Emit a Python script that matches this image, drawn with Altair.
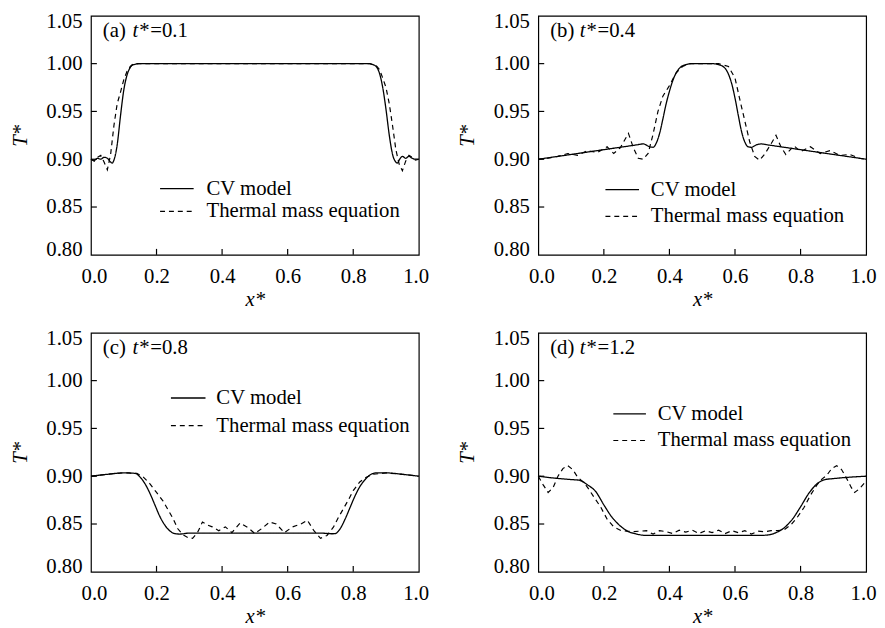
import altair as alt
import pandas as pd

SERIES = ["CV model", "Thermal mass equation"]
XTICKS = [0.0, 0.2, 0.4, 0.6, 0.8, 1.0]
YTICKS = [0.80, 0.85, 0.90, 0.95, 1.00, 1.05]
XTICKS_IN = [0.2, 0.4, 0.6, 0.8]
YTICKS_IN = [0.85, 0.90, 0.95, 1.00]

# ---------------- panel (a) t* = 0.1 ----------------
a_cv_x = [0.00, 0.01, 0.02, 0.03, 0.04, 0.05, 0.06, 0.065, 0.07, 0.08, 0.09, 0.10, 0.11, 0.12, 0.13, 0.15,
          0.50, 0.85, 0.86, 0.87, 0.88, 0.89, 0.90, 0.91, 0.92, 0.93, 0.935, 0.94, 0.95, 0.96, 0.97, 0.98, 0.99, 1.00]
a_cv_y = [0.900, 0.899, 0.901, 0.900, 0.902, 0.901, 0.897, 0.896, 0.899, 0.915, 0.945, 0.972, 0.988, 0.996, 0.999, 1.000,
          1.000, 1.000, 0.999, 0.997, 0.990, 0.975, 0.952, 0.925, 0.905, 0.897, 0.896, 0.899, 0.903, 0.901, 0.903, 0.901, 0.900, 0.900]
a_tm_x = [0.00, 0.01, 0.02, 0.03, 0.04, 0.05, 0.06, 0.07, 0.08, 0.09, 0.10, 0.11, 0.12, 0.13, 0.15,
          0.50, 0.85, 0.87, 0.88, 0.89, 0.90, 0.91, 0.92, 0.93, 0.94, 0.95, 0.96, 0.97, 0.98, 0.99, 1.00]
a_tm_y = [0.900, 0.898, 0.902, 0.904, 0.897, 0.889, 0.905, 0.935, 0.958, 0.970, 0.983, 0.992, 0.997, 1.000, 1.000,
          1.000, 1.000, 0.998, 0.994, 0.985, 0.975, 0.958, 0.935, 0.910, 0.895, 0.888, 0.898, 0.904, 0.902, 0.899, 0.900]

# ---------------- panel (b) t* = 0.4 ----------------
b_cv_x = [0.00, 0.10, 0.20, 0.30, 0.32, 0.34, 0.35, 0.36, 0.37, 0.38, 0.39, 0.40, 0.41, 0.42, 0.43, 0.45, 0.47,
          0.53, 0.55, 0.57, 0.58, 0.59, 0.60, 0.61, 0.62, 0.63, 0.64, 0.65, 0.665, 0.68, 0.70, 0.80, 0.90, 1.00]
b_cv_y = [0.900, 0.905, 0.910, 0.915, 0.916, 0.913, 0.9125, 0.917, 0.927, 0.942, 0.958, 0.971, 0.982, 0.990, 0.995, 0.999, 1.000,
          1.000, 0.999, 0.995, 0.989, 0.979, 0.964, 0.946, 0.929, 0.918, 0.913, 0.9125, 0.915, 0.916, 0.915, 0.910, 0.905, 0.900]
b_tm_x = [0.00, 0.03, 0.06, 0.09, 0.12, 0.15, 0.18, 0.21, 0.23, 0.25, 0.275, 0.29, 0.305, 0.32, 0.335, 0.35, 0.365,
          0.38, 0.40, 0.42, 0.44, 0.46, 0.55, 0.58, 0.60, 0.615, 0.63, 0.645, 0.66, 0.675, 0.69, 0.71, 0.725, 0.74,
          0.755, 0.78, 0.80, 0.83, 0.86, 0.89, 0.92, 0.95, 0.98, 1.00]
b_tm_y = [0.900, 0.901, 0.903, 0.906, 0.904, 0.909, 0.907, 0.913, 0.906, 0.912, 0.927, 0.912, 0.901, 0.900, 0.906, 0.926, 0.950,
          0.966, 0.977, 0.990, 0.997, 1.000, 1.000, 0.997, 0.985, 0.962, 0.940, 0.918, 0.903, 0.899, 0.905, 0.916, 0.925, 0.913,
          0.905, 0.914, 0.908, 0.913, 0.906, 0.909, 0.904, 0.905, 0.901, 0.900]

# ---------------- panel (c) t* = 0.8 ----------------
c_cv_x = [0.00, 0.05, 0.10, 0.135, 0.15, 0.165, 0.18, 0.195, 0.21, 0.225, 0.24, 0.255, 0.27, 0.30, 0.50, 0.70,
          0.735, 0.745, 0.76, 0.775, 0.79, 0.805, 0.82, 0.835, 0.85, 0.87, 0.90, 0.95, 1.00]
c_cv_y = [0.900, 0.902, 0.9035, 0.903, 0.899, 0.892, 0.882, 0.870, 0.858, 0.849, 0.843, 0.840, 0.8395, 0.8405, 0.8405, 0.8405,
          0.8398, 0.840, 0.845, 0.855, 0.867, 0.879, 0.889, 0.896, 0.901, 0.9035, 0.9035, 0.902, 0.900]
c_tm_x = [0.00, 0.05, 0.10, 0.14, 0.16, 0.18, 0.20, 0.22, 0.235, 0.25, 0.265, 0.28, 0.295, 0.31, 0.325, 0.34, 0.355,
          0.37, 0.39, 0.41, 0.43, 0.455, 0.48, 0.50, 0.52, 0.545, 0.565, 0.59, 0.615, 0.64, 0.66, 0.68, 0.70, 0.72,
          0.74, 0.755, 0.77, 0.785, 0.80, 0.82, 0.84, 0.86, 0.90, 0.95, 1.00]
c_tm_y = [0.900, 0.902, 0.9035, 0.903, 0.899, 0.892, 0.883, 0.874, 0.865, 0.856, 0.845, 0.839, 0.836, 0.835, 0.841, 0.852, 0.849,
          0.847, 0.843, 0.847, 0.841, 0.851, 0.846, 0.840, 0.845, 0.852, 0.850, 0.841, 0.847, 0.850, 0.854, 0.843, 0.835, 0.838,
          0.847, 0.857, 0.866, 0.875, 0.885, 0.894, 0.899, 0.902, 0.9035, 0.902, 0.900]

# ---------------- panel (d) t* = 1.2 ----------------
d_cv_x = [0.00, 0.05, 0.10, 0.125, 0.15, 0.175, 0.20, 0.225, 0.25, 0.275, 0.30, 0.33, 0.50, 0.67, 0.70,
          0.725, 0.75, 0.775, 0.80, 0.825, 0.85, 0.875, 0.90, 0.95, 1.00]
d_cv_y = [0.900, 0.898, 0.8965, 0.8958, 0.891, 0.884, 0.870, 0.857, 0.848, 0.842, 0.8395, 0.838, 0.838, 0.838, 0.8385,
          0.841, 0.846, 0.855, 0.868, 0.882, 0.892, 0.8965, 0.8975, 0.899, 0.900]
d_tm_x = [0.00, 0.015, 0.03, 0.045, 0.06, 0.075, 0.09, 0.105, 0.12, 0.14, 0.155, 0.17, 0.19, 0.21, 0.23, 0.25, 0.27,
          0.29, 0.31, 0.33, 0.35, 0.37, 0.39, 0.41, 0.43, 0.45, 0.47, 0.49, 0.51, 0.53, 0.55, 0.57, 0.59, 0.61, 0.63,
          0.65, 0.67, 0.69, 0.71, 0.73, 0.75, 0.77, 0.79, 0.81, 0.83, 0.85, 0.865, 0.88, 0.895, 0.91, 0.925, 0.94,
          0.955, 0.965, 0.98, 1.00]
d_tm_y = [0.900, 0.891, 0.883, 0.888, 0.900, 0.908, 0.911, 0.907, 0.899, 0.893, 0.886, 0.878, 0.868, 0.855, 0.847, 0.8435, 0.8425,
          0.842, 0.8425, 0.843, 0.8395, 0.843, 0.842, 0.840, 0.8435, 0.8415, 0.8435, 0.840, 0.843, 0.841, 0.8435, 0.840, 0.843, 0.841, 0.843,
          0.8395, 0.8425, 0.842, 0.843, 0.843, 0.844, 0.849, 0.857, 0.867, 0.880, 0.891, 0.897, 0.901, 0.908, 0.911, 0.907, 0.898,
          0.888, 0.883, 0.887, 0.895]

PANEL_TAGS = ["(a)", "(b)", "(c)", "(d)"]
PANEL_TIMES = ["=0.1", "=0.4", "=0.8", "=1.2"]

W, H = 332, 242
FONT = "Liberation Serif"
FS = 21

# legend placement inside each panel (decoration): (line x0, line x1, text x, row1 y, row2 y)
LEG = [(70, 104, 117, 175, 198),
       (68, 102, 114, 176, 203),
       (81, 116, 127, 66, 94),
       (76, 109, 121, 82, 109)]


def make_panel(cv_x, cv_y, tm_x, tm_y, tag, tval, leg):
    df = pd.DataFrame({
        "x": cv_x + tm_x,
        "T": cv_y + tm_y,
        "series": [SERIES[0]] * len(cv_x) + [SERIES[1]] * len(tm_x),
    })
    xs = alt.Scale(domain=[0, 1], nice=False)
    ys = alt.Scale(domain=[0.80, 1.05], nice=False, zero=False)
    xenc = alt.X("x:Q", scale=xs, axis=alt.Axis(values=XTICKS, format=".1f", title="x*",
                                                 labelFlush=True, labelFlushOffset=10,
                                                 labelPadding=11, titlePadding=2))
    yenc = alt.Y("T:Q", scale=ys, axis=alt.Axis(values=YTICKS, format=".2f", title="T*",
                                                 labelFlush=True, labelFlushOffset=5,
                                                 labelPadding=9, titlePadding=16))
    dash = alt.StrokeDash("series:N", scale=alt.Scale(domain=SERIES, range=[[1, 0], [5, 4]]), legend=None)

    base = alt.Chart(df)
    cv = base.transform_filter(alt.datum.series == SERIES[0]).mark_line(
        interpolate="monotone", color="black", strokeWidth=1.3).encode(x=xenc, y=yenc, strokeDash=dash)
    tm = base.transform_filter(alt.datum.series == SERIES[1]).mark_line(
        color="black", strokeWidth=1.2).encode(x=xenc, y=yenc, strokeDash=dash)

    xt = alt.Chart(pd.DataFrame({"x": XTICKS_IN})).mark_rule(color="black", strokeWidth=1.2).encode(
        x=alt.X("x:Q", scale=xs), y=alt.value(H), y2=alt.value(H - 6))
    yt = alt.Chart(pd.DataFrame({"T": YTICKS_IN})).mark_rule(color="black", strokeWidth=1.2).encode(
        y=alt.Y("T:Q", scale=ys), x=alt.value(0), x2=alt.value(6))

    txt_kw = dict(align="left", baseline="alphabetic", font=FONT, fontSize=FS, color="black")
    t1 = alt.Chart(pd.DataFrame({"t": [tag]})).mark_text(**txt_kw).encode(
        text="t:N", x=alt.value(12), y=alt.value(21))
    t2 = alt.Chart(pd.DataFrame({"t": ["t*"]})).mark_text(fontStyle="italic", **txt_kw).encode(
        text="t:N", x=alt.value(42), y=alt.value(21))
    t3 = alt.Chart(pd.DataFrame({"t": [tval]})).mark_text(**txt_kw).encode(
        text="t:N", x=alt.value(60), y=alt.value(21))

    lx0, lx1, ltx, ly1, ly2 = leg
    l_cv = alt.Chart(pd.DataFrame({"s": [SERIES[0]]})).mark_rule(color="black", strokeWidth=1.3).encode(
        x=alt.value(lx0), x2=alt.value(lx1), y=alt.value(ly1))
    l_tm = alt.Chart(pd.DataFrame({"s": [SERIES[1]]})).mark_rule(color="black", strokeWidth=1.2,
                                                                  strokeDash=[5, 4]).encode(
        x=alt.value(lx0), x2=alt.value(lx1), y=alt.value(ly2))
    lt_kw = dict(align="left", baseline="middle", font=FONT, fontSize=FS, color="black")
    l_cv_t = alt.Chart(pd.DataFrame({"s": [SERIES[0]]})).mark_text(**lt_kw).encode(
        text="s:N", x=alt.value(ltx), y=alt.value(ly1))
    l_tm_t = alt.Chart(pd.DataFrame({"s": [SERIES[1]]})).mark_text(**lt_kw).encode(
        text="s:N", x=alt.value(ltx), y=alt.value(ly2))

    return alt.layer(cv, tm, xt, yt, t1, t2, t3, l_cv, l_tm, l_cv_t, l_tm_t).properties(width=W, height=H)


pa = make_panel(a_cv_x, a_cv_y, a_tm_x, a_tm_y, PANEL_TAGS[0], PANEL_TIMES[0], LEG[0])
pb = make_panel(b_cv_x, b_cv_y, b_tm_x, b_tm_y, PANEL_TAGS[1], PANEL_TIMES[1], LEG[1])
pc = make_panel(c_cv_x, c_cv_y, c_tm_x, c_tm_y, PANEL_TAGS[2], PANEL_TIMES[2], LEG[2])
pd_ = make_panel(d_cv_x, d_cv_y, d_tm_x, d_tm_y, PANEL_TAGS[3], PANEL_TIMES[3], LEG[3])

chart = alt.vconcat(
    alt.hconcat(pa, pb, spacing=26),
    alt.hconcat(pc, pd_, spacing=26),
    spacing=17,
).properties(
    padding={"left": 0, "top": -2, "right": 0, "bottom": 0},
    background="white",
).configure_view(
    stroke="black", strokeWidth=1.2,
).configure_axis(
    labelFont=FONT, labelFontSize=FS, labelColor="black",
    titleFont=FONT, titleFontSize=FS, titleFontStyle="italic", titleFontWeight="normal", titleColor="black",
    ticks=False, domain=False, grid=False, labelOverlap=False,
)

chart.save("out.html", embed_options={"renderer": "svg", "actions": False})
